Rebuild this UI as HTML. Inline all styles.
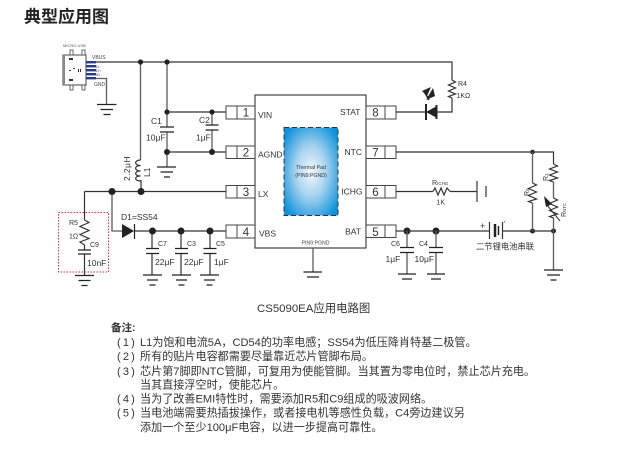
<!DOCTYPE html>
<html><head><meta charset="utf-8"><style>
html,body{margin:0;padding:0;background:#fff}
svg{display:block}
text{font-family:"Liberation Sans","Noto Sans CJK SC",sans-serif;fill:#333}
.w{fill:none;stroke:#333;stroke-width:1.2}
.g{fill:none;stroke:#5c5c5c;stroke-width:1.3}
.p{fill:none;stroke:#222;stroke-width:1.3}
.n{font-size:11.1px}
.l{font-size:11px;letter-spacing:2.2px}
.s{font-size:8.5px}
.t{font-size:7px}
</style></head><body>
<svg width="632" height="464" viewBox="0 0 632 464" xmlns="http://www.w3.org/2000/svg">
<defs>
<radialGradient id="b" cx="50%" cy="50%" r="62%"><stop offset="0" stop-color="#f2f8fd"/><stop offset=".45" stop-color="#a9d3ef"/><stop offset="1" stop-color="#0f93dc"/></radialGradient>
</defs>
<text x="24" y="22.500" style="font-size:17px;font-weight:700;fill:#222">典型应用图</text>

<!-- USB -->
<text x="63" y="47" style="font-size:4px;fill:#555">MICRO USB</text>
<rect x="63" y="55" width="23" height="30" fill="#fff" stroke="#444" stroke-width="1"/>
<rect x="63" y="55" width="2" height="30" fill="#888"/>
<rect x="70" y="50" width="3" height="5" fill="#fff" stroke="#444" stroke-width=".8"/>
<rect x="82" y="50" width="3" height="5" fill="#fff" stroke="#444" stroke-width=".8"/>
<rect x="70" y="85" width="3" height="5" fill="#fff" stroke="#444" stroke-width=".8"/>
<rect x="82" y="85" width="3" height="5" fill="#fff" stroke="#444" stroke-width=".8"/>
<rect x="69" y="58" width="4" height="2" fill="#333"/><rect x="69" y="79" width="4" height="2" fill="#333"/>
<rect x="78" y="69" width="1" height="3" fill="#333"/><rect x="80" y="69" width="1" height="3" fill="#333"/><rect x="69" y="70" width="2" height="1" fill="#333"/><rect x="73" y="68" width="2" height="1" fill="#333"/>
<g fill="#2b3a8f"><rect x="86" y="61" width="10" height="2.4"/><rect x="86" y="65" width="10" height="2.4"/><rect x="86" y="69" width="10" height="2.4"/><rect x="86" y="73" width="10" height="2.4"/><rect x="86" y="77" width="10" height="2.4"/></g>
<text x="92" y="59" style="font-size:5px;fill:#444">VBUS</text>
<text x="96" y="68" style="font-size:4px;fill:#444">D-</text>
<text x="96" y="72" style="font-size:4px;fill:#444">D+</text>
<text x="96" y="76" style="font-size:4px;fill:#444">ID</text>
<text x="94" y="86" style="font-size:5px;fill:#444">GND</text>
<path class="g" d="M96 78.500H106.500V104"/>
<path class="p" d="M97 104.500H116.500M100.500 109.500H113M103.500 114.500H110.500"/>

<!-- wires -->
<path class="w" d="M96 62H452V80"/>
<path class="g" d="M140.500 62V160M167 62V127M167 132V167M212 112V125M212 130V152"/>
<path class="w" d="M167 112H226M167 152H226"/>
<path class="w" d="M84.500 191.500H226M141 180V191.500"/>
<path class="w" d="M84.500 191.500V220M84.500 245V250M84.500 254V275"/>
<path class="g" d="M112 191.500V231H122"/>
<path class="w" d="M135 231H226"/>
<path class="w" d="M152 231V248M181 231V248M210 231V248M152 253V275M181 253V275M210 253V275"/>
<path class="p" d="M146 248.500H159M175 248.500H188M203.500 248.500H216.500M146 253.500H159M175 253.500H188M203.500 253.500H216.500"/>
<path class="p" d="M143 275H162M172 275H191M200 275H219M147 280H158M176 280H187M204 280H215M149.500 285H155.500M178.500 285H184.500M206.500 285H212.500"/>
<path class="p" d="M160 127H174M160 132H174M205.500 125H218.500M205.500 130H218.500"/>
<path class="p" d="M157 167H176M160.500 172H173M164 177H170"/>
<path class="p" d="M78 250H91M78 254H91M75 275.500H94M78.500 280.500H90.500M81.500 285.500H87.500"/>

<!-- inductor -->
<path class="w" d="M140.500 160C134 160 134 165.500 140.500 165.500C134 165.500 134 171 140.500 171C134 171 134 176 140.500 176C134 176 134 181 140.500 181"/>
<!-- R5 -->
<path class="w" d="M84.500 220L89 222.500L80 226.500L89 230.500L80 234.500L89 238.500L80 242L84.500 245"/>

<!-- D1 -->
<path d="M122 224V238L134 231Z" fill="#222"/><path d="M134.500 224V239" stroke="#222" stroke-width="1.2"/>

<!-- junctions -->
<g fill="#222">
<circle cx="140.500" cy="62" r="2.600"/><circle cx="167" cy="62" r="2.600"/><circle cx="167" cy="112" r="2.600"/><circle cx="212" cy="112" r="2.600"/><circle cx="167" cy="152" r="3"/><circle cx="212" cy="152" r="3"/>
<circle cx="112" cy="191.500" r="3.500"/><circle cx="141" cy="191.500" r="3.500"/>
<circle cx="152.500" cy="231" r="3.500"/><circle cx="181" cy="231" r="3.500"/><circle cx="210" cy="231" r="3.500"/>
<circle cx="407" cy="231" r="3.500"/><circle cx="436" cy="231" r="3.500"/>
<circle cx="532.500" cy="152" r="2.300"/><circle cx="532.500" cy="231" r="2.500"/><circle cx="553.500" cy="231" r="2.500"/>
</g>

<!-- chip -->
<rect x="255" y="95" width="111" height="153" fill="#fff" stroke="#444" stroke-width="1.200"/>
<rect x="284" y="127.500" width="54" height="88" fill="url(#b)" stroke="#333" stroke-width="1" stroke-dasharray="5 3"/>
<text x="311" y="169" text-anchor="middle" style="font-size:5.2px;fill:#333">Thermal Pad</text>
<text x="311" y="177" text-anchor="middle" style="font-size:5.2px;fill:#333">(PIN9:PGND)</text>
<path class="g" d="M313 248V272"/>
<path class="p" d="M303.500 272H322M307 277H319"/>
<text x="315.500" y="244.500" text-anchor="middle" style="font-size:5.200px;fill:#444">PIN9:PGND</text>

<!-- pins -->
<g fill="#fff" stroke="#444" stroke-width="1">
<rect x="226" y="106" width="29" height="13"/><rect x="226" y="146" width="29" height="12.500"/><rect x="226" y="185.500" width="29" height="12.500"/><rect x="226" y="225" width="29" height="13"/>
<rect x="366" y="106" width="30" height="13"/><rect x="366" y="146" width="30" height="12.500"/><rect x="366" y="185.500" width="30" height="12.500"/><rect x="366" y="225" width="30" height="12.500"/>
<path d="M237 106V119M237 146V158.500M237 185.500V198M237 225V238M385 106V119M385 146V158.500M385 185.500V198M385 225V237.500" fill="none"/>
</g>
<text x="246" y="116.500" text-anchor="middle" style="font-size:11.500px">1</text><text x="246" y="156.500" text-anchor="middle" style="font-size:11.500px">2</text><text x="246" y="196" text-anchor="middle" style="font-size:11.500px">3</text><text x="246" y="236" text-anchor="middle" style="font-size:11.500px">4</text>
<text x="375.500" y="116.500" text-anchor="middle" style="font-size:11.500px">8</text><text x="375.500" y="156.500" text-anchor="middle" style="font-size:11.500px">7</text><text x="375.500" y="196" text-anchor="middle" style="font-size:11.500px">6</text><text x="375.500" y="236" text-anchor="middle" style="font-size:11.500px">5</text>
<text x="258" y="118" class="s">VIN</text><text x="258" y="157.500" class="s">AGND</text><text x="258" y="197" class="s">LX</text><text x="259" y="236.500" class="s">VBS</text>
<text x="360.500" y="115" class="s" text-anchor="end">STAT</text><text x="362" y="155" class="s" text-anchor="end">NTC</text><text x="362.500" y="194.500" class="s" text-anchor="end">ICHG</text><text x="361" y="234.500" class="s" text-anchor="end">BAT</text>

<!-- labels -->
<text x="151" y="124" class="s">C1</text><text x="146" y="140.500" class="s">10μF</text>
<text x="199" y="123" class="s">C2</text><text x="196" y="140.500" class="s">1μF</text>
<text transform="translate(130 181) rotate(-90)" class="s" style="letter-spacing:.4px">2.2μH</text>
<text transform="translate(150 177) rotate(-90)" class="s">L1</text>
<text x="121" y="220" class="s">D1=SS54</text>
<text x="69" y="225" class="t">R5</text><text x="69" y="238.500" class="t">1Ω</text><text x="90" y="247" class="t">C9</text><text x="87" y="266" class="s">10nF</text>
<text x="158" y="246" class="t">C7</text><text x="187" y="246" class="t">C3</text><text x="216" y="246" class="t">C5</text>
<text x="155" y="265" class="s">22μF</text><text x="184" y="265" class="s">22μF</text><text x="214" y="265" class="s">1μF</text>
<text x="391" y="246" class="t">C6</text><text x="419" y="246" class="t">C4</text>
<text x="385.500" y="262" class="s">1μF</text><text x="414.500" y="262" class="s">10μF</text>
<text x="458" y="86" class="t">R4</text><text x="456.500" y="98" class="t">1KΩ</text>
<text x="432" y="185" class="t">R<tspan style="font-size:4.500px">ICHG</tspan></text><text x="436.500" y="204.500" class="t">1K</text>
<text x="476" y="249.500" style="font-size:8.300px">二节锂电池串联</text>
<text x="480" y="229" style="font-size:9px">+</text><text x="504" y="226" style="font-size:7px">'</text>
<text transform="translate(529 196) rotate(-90)" class="t">R<tspan style="font-size:4.500px">0</tspan></text>
<text transform="translate(548 181) rotate(-90)" class="t">R<tspan style="font-size:4.500px">1</tspan></text>
<text transform="translate(566 217) rotate(-90)" class="t">R<tspan style="font-size:4.500px">NTC</tspan></text>

<!-- right wires -->
<path class="w" d="M396 112H425M437 112H452V98M396 152H553.500V164M396 191.500H433M450 191.500H477M396 231H489M503 231H553.500"/>
<path class="g" d="M532.500 152V183M532.500 203V231M553.500 182V198M553.500 218V270M407 231V247M436 231V247M407 252V274M436 252V274"/>
<path class="p" d="M400 247.500H414M429 247.500H443M400 252.500H414M429 252.500H443M398 274H416M427 274H445M402 279H412M431 279H441"/>
<!-- R4 -->
<path class="w" d="M452 80L455.500 82L448.500 85L455.500 88L448.500 91L455.500 94L448.500 96.500L452 98"/>
<!-- LED -->
<path d="M426 112L437 106V118Z" fill="#222"/><path d="M426 104V120M436.500 105V119" stroke="#222" stroke-width="2"/>
<path d="M422 91L431 87L427 96Z M433 88L435 96L426 100Z" fill="#222"/>
<path d="M425 93L429 100" stroke="#222" stroke-width="1.500"/>
<!-- RICHG -->
<path class="w" d="M433 191.500L435 188L438 195L441 188L444 195L447 188L450 191.500"/>
<path d="M477 181V202M486 186V197" stroke="#444" stroke-width="1.300" fill="none"/>
<!-- battery -->
<path d="M489.500 222V239M502.500 222V239" stroke="#333" stroke-width="1.200" fill="none"/><path d="M495 224V237" stroke="#222" stroke-width="2.500"/><path d="M498.500 226V235" stroke="#222" stroke-width="1.500"/>
<!-- R0 -->
<path class="w" d="M532.500 183L536.500 185L528.500 188.500L536.500 192L528.500 195.500L536.500 199L528.500 201.500L532.500 203"/>
<!-- R1 -->
<path class="w" d="M553.500 164L557.500 166L549.500 169L557.500 172L549.500 175L557.500 178L549.500 180.500L553.500 182"/>
<!-- RNTC -->
<path class="w" d="M553.500 198L557.500 200L549.500 203.500L557.500 207L549.500 210.500L557.500 214L549.500 216.500L553.500 218"/>
<path d="M560 221L547 205" stroke="#333" stroke-width="1"/>
<path d="M544 196L552 204L546 207Z" fill="#222"/>
<path class="p" d="M544 270H563M547 275H560M550.500 280H556.500"/>

<!-- red box -->
<rect x="58.500" y="212.500" width="50" height="59.500" fill="none" stroke="#e8303a" stroke-width="1" stroke-dasharray="1.500 1.500"/>

<!-- text -->
<text x="257" y="312" style="font-size:11.400px">CS5090EA应用电路图</text>
<text x="111" y="331" style="font-size:10.500px;font-weight:700">备注:</text>
<text x="117" y="346" class="l">(1)</text><text x="140" y="346" class="n">L1为饱和电流5A，CD54的功率电感；SS54为低压降肖特基二极管。</text>
<text x="117" y="360" class="l">(2)</text><text x="140" y="360" class="n">所有的贴片电容都需要尽量靠近芯片管脚布局。</text>
<text x="117" y="375" class="l">(3)</text><text x="140" y="375" class="n">芯片第7脚即NTC管脚，可复用为使能管脚。当其置为零电位时，禁止芯片充电。</text>
<text x="140" y="388.500" class="n">当其直接浮空时，使能芯片。</text>
<text x="117" y="402.500" class="l">(4)</text><text x="140" y="402.500" class="n">当为了改善EMI特性时，需要添加R5和C9组成的吸波网络。</text>
<text x="117" y="416.500" class="l">(5)</text><text x="140" y="416.500" class="n">当电池端需要热插拔操作，或者接电机等感性负载，C4旁边建议另</text>
<text x="140" y="431" class="n">添加一个至少100μF电容，以进一步提高可靠性。</text>
</svg>
</body></html>
